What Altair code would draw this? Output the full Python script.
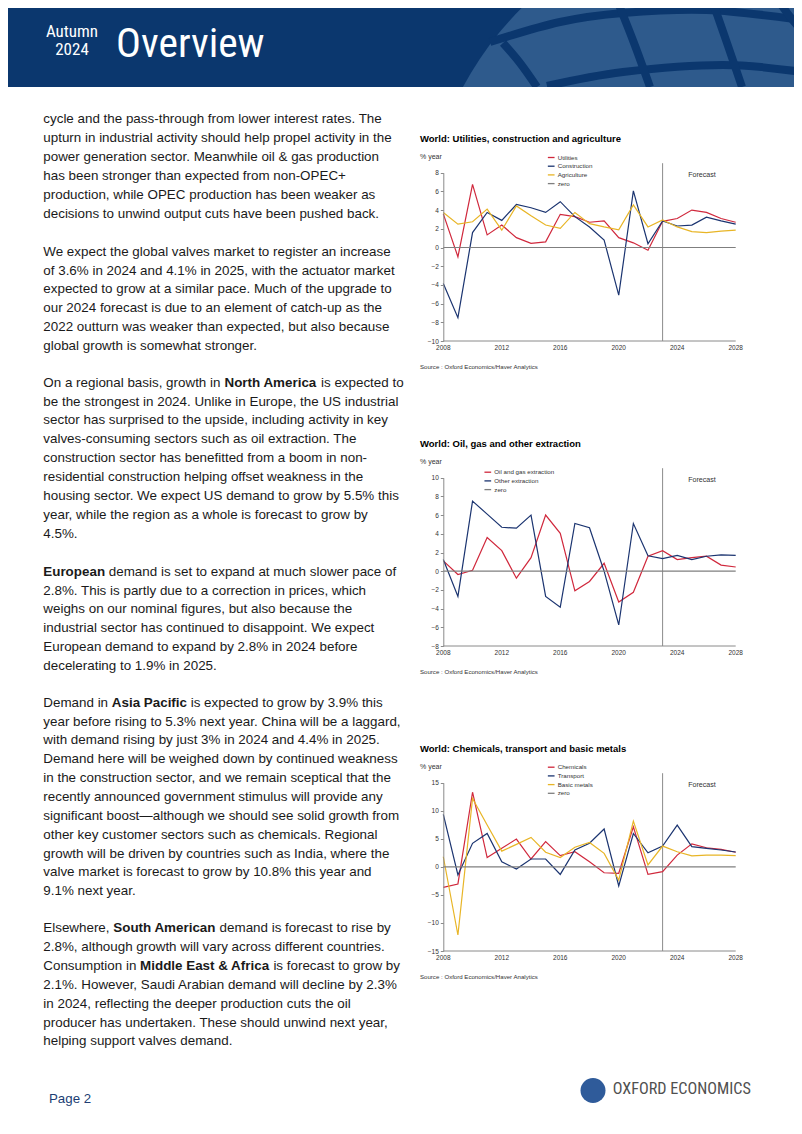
import altair as alt
import pandas as pd

# ---------------- data ----------------
YEARS = [2008, 2009, 2010, 2011, 2012, 2013, 2014, 2015, 2016, 2017, 2018,
         2019, 2020, 2021, 2022, 2023, 2024, 2025, 2026, 2027, 2028]
FORECAST_START = 2023
X_TICKS = [2008, 2012, 2016, 2020, 2024, 2028]

UTILITIES = [3.6, -1.0, 6.75, 1.35, 2.4, 1.05, 0.45, 0.6, 3.55, 3.3, 2.7,
             2.85, 1.05, 0.5, -0.3, 2.8, 3.1, 4.0, 3.75, 3.1, 2.7]
CONSTRUCTION = [-3.85, -7.5, 1.6, 3.75, 2.9, 4.6, 4.25, 3.75, 4.9, 3.3, 2.2,
                0.8, -5.1, 6.05, 0.4, 2.85, 2.3, 2.4, 3.25, 2.85, 2.5]
AGRICULTURE = [3.75, 2.5, 2.75, 4.1, 1.85, 4.45, 3.4, 2.4, 2.05, 3.75, 2.55,
               2.2, 1.9, 4.55, 2.2, 2.95, 2.2, 1.7, 1.6, 1.75, 1.85]
ZERO = [0, 0, 0, 0, 0, 0, 0, 0, 0, 0, 0, 0, 0, 0, 0, 0, 0, 0, 0, 0, 0]

OIL_GAS = [1.1, -0.35, 0.1, 3.6, 2.2, -0.75, 1.45, 6.0, 4.05, -2.1, -1.1,
           0.85, -3.3, -2.25, 1.6, 2.2, 1.25, 1.45, 1.6, 0.65, 0.45]
OTHER_EXTRACTION = [1.25, -2.7, 7.5, 6.1, 4.7, 4.6, 6.0, -2.7, -3.85, 5.1, 4.65,
                    0.0, -5.75, 5.1, 1.65, 1.35, 1.7, 1.25, 1.6, 1.75, 1.7]

CHEMICALS = [-3.65, -3.05, 13.3, 1.65, 3.3, 4.95, 1.4, 4.5, 2.0, 2.7, 0.9,
             -1.05, -1.15, 7.15, -1.35, -0.85, 2.1, 4.1, 3.4, 3.1, 2.6]
TRANSPORT = [9.35, -1.45, 4.2, 5.95, 0.9, -0.4, 1.4, 1.4, -1.35, 3.0, 4.2,
             6.75, -3.4, 5.95, 2.5, 3.7, 7.45, 3.6, 3.3, 3.0, 2.65]
BASIC_METALS = [1.8, -12.15, 12.2, 7.45, 2.8, 4.0, 5.25, 2.6, 1.65, 3.5, 4.35,
                2.4, -2.35, 8.15, 0.35, 3.7, 2.7, 1.95, 2.1, 2.1, 2.0]

CHART_TITLES = ["World: Utilities, construction and agriculture",
                "World: Oil, gas and other extraction",
                "World: Chemicals, transport and basic metals"]
SERIES_NAMES = [["Utilities", "Construction", "Agriculture", "zero"],
                ["Oil and gas extraction", "Other extraction", "zero"],
                ["Chemicals", "Transport", "Basic metals", "zero"]]
SERIES_VALUES = [[UTILITIES, CONSTRUCTION, AGRICULTURE, ZERO],
                 [OIL_GAS, OTHER_EXTRACTION, ZERO],
                 [CHEMICALS, TRANSPORT, BASIC_METALS, ZERO]]
Y_DOMAINS = [[-10, 8], [-8, 10], [-15, 15]]
Y_TICKS = [[-10, -8, -6, -4, -2, 0, 2, 4, 6, 8],
           [-8, -6, -4, -2, 0, 2, 4, 6, 8, 10],
           [-15, -10, -5, 0, 5, 10, 15]]
SOURCE = "Source : Oxford Economics/Haver Analytics"
UNIT = "% year"
FORECAST_LABEL = "Forecast"

PARAGRAPHS = [
    ["cycle and the pass-through from lower interest rates. The",
     "upturn in industrial activity should help propel activity in the",
     "power generation sector. Meanwhile oil & gas production",
     "has been stronger than expected from non-OPEC+",
     "production, while OPEC production has been weaker as",
     "decisions to unwind output cuts have been pushed back."],
    ["We expect the global valves market to register an increase",
     "of 3.6% in 2024 and 4.1% in 2025, with the actuator market",
     "expected to grow at a similar pace. Much of the upgrade to",
     "our 2024 forecast is due to an element of catch-up as the",
     "2022 outturn was weaker than expected, but also because",
     "global growth is somewhat stronger."],
    ["On a regional basis, growth in **North America** is expected to",
     "be the strongest in 2024. Unlike in Europe, the US industrial",
     "sector has surprised to the upside, including activity in key",
     "valves-consuming sectors such as oil extraction. The",
     "construction sector has benefitted from a boom in non-",
     "residential construction helping offset weakness in the",
     "housing sector. We expect US demand to grow by 5.5% this",
     "year, while the region as a whole is forecast to grow by",
     "4.5%."],
    ["**European** demand is set to expand at much slower pace of",
     "2.8%. This is partly due to a correction in prices, which",
     "weighs on our nominal figures, but also because the",
     "industrial sector has continued to disappoint. We expect",
     "European demand to expand by 2.8% in 2024 before",
     "decelerating to 1.9% in 2025."],
    ["Demand in **Asia Pacific** is expected to grow by 3.9% this",
     "year before rising to 5.3% next year. China will be a laggard,",
     "with demand rising by just 3% in 2024 and 4.4% in 2025.",
     "Demand here will be weighed down by continued weakness",
     "in the construction sector, and we remain sceptical that the",
     "recently announced government stimulus will provide any",
     "significant boost\u2014although we should see solid growth from",
     "other key customer sectors such as chemicals. Regional",
     "growth will be driven by countries such as India, where the",
     "valve market is forecast to grow by 10.8% this year and",
     "9.1% next year."],
    ["Elsewhere, **South American** demand is forecast to rise by",
     "2.8%, although growth will vary across different countries.",
     "Consumption in **Middle East & Africa** is forecast to grow by",
     "2.1%. However, Saudi Arabian demand will decline by 2.3%",
     "in 2024, reflecting the deeper production cuts the oil",
     "producer has undertaken. These should unwind next year,",
     "helping support valves demand."],
]

# ---------------- layout (pixels inside the chart; page margin is 8px) ----------------
W, H = 786, 1118
FONT = "Liberation Sans"
NARROW = "Liberation Sans Narrow, Arial Narrow, Roboto Condensed, Liberation Sans"
RED, NAVY, GOLD, GRAY = "#d0283c", "#1b3470", "#e8b526", "#7f7f7f"
SERIES_COLORS = [[RED, NAVY, GOLD, GRAY], [RED, NAVY, GRAY], [RED, NAVY, GOLD, GRAY]]
BANNER, GLOBE = "#0b376e", "#2e5a8c"
AXIS_GRAY = "#8a8a8a"

X0, X1 = 435.3, 727.7
PANEL_STEP = 305
PLOT_TOP0, PLOT_BOT0 = 164.7, 333.0
LEGEND_POS = [(538.7, 145.0), (475.3, 459.7), (538.7, 754.7)]

TEXT_X = 35.3
PARA_TOP = [111.3, 243.7, 374.7, 563.7, 694.7, 920.3]
LINE_H = 18.85
BOLD_X = {"North America": (216.5, 313.0), "European": (35.3, 100.8),
          "Asia Pacific": (103.8, 182.7), "South American": (105.3, 211.6),
          "Middle East & Africa": (132.1, 265.4)}

ONE = pd.DataFrame({"k": [0]})


def txt(s, x, y, size=13.4, weight="normal", color="#1a1a1a", align="left",
        baseline="middle", font=FONT):
    return alt.Chart(ONE).mark_text(
        text=s, fontSize=size, fontWeight=weight, color=color, align=align,
        baseline=baseline, font=font
    ).encode(x=alt.value(x), y=alt.value(y))


layers = []

# ---------------- banner ----------------
GLOBE_R = 334
layers.append(alt.Chart(ONE).mark_rect(color=BANNER).encode(
    x=alt.value(0), x2=alt.value(W), y=alt.value(0), y2=alt.value(79)))
layers.append(alt.Chart(ONE).mark_point(
    shape="circle", filled=True, size=(2 * GLOBE_R) ** 2, color=GLOBE, opacity=1,
    strokeWidth=0, clip=True).encode(x=alt.value(749.5), y=alt.value(236.5)))

globe_rows = []
globe_paths = {
    "p1": [(482, 34), (552, 14), (615, 5), (699, 2), (794, 12)],
    "p2": [(539, 78), (615, 64), (715, 57), (794, 64)],
    "m0": [(495, 35), (512, 55), (529, 79)],
    "m1": [(609, -8), (626, 35), (642, 79)],
    "m2": [(704, -8), (719, 35), (734, 79)],
    "m3": [(770, -8), (783, 10), (802, 32)],
}
for seg, pts in globe_paths.items():
    for i, (gx, gy) in enumerate(pts):
        globe_rows.append({"seg": seg, "i": i, "gx": gx, "gy": gy})
layers.append(alt.Chart(pd.DataFrame(globe_rows)).mark_line(
    color=BANNER, strokeWidth=8, clip=True, interpolate="cardinal", strokeCap="butt"
).encode(x=alt.X("gx:Q", scale=None, axis=None), y=alt.Y("gy:Q", scale=None, axis=None),
         detail="seg:N", order="i:Q"))
layers.append(alt.Chart(ONE).mark_rect(color="white").encode(
    x=alt.value(0), x2=alt.value(W), y=alt.value(79), y2=alt.value(H)))

layers.append(txt("Autumn", 64, 29, size=17, color="white", align="center",
                  baseline="alphabetic", font=NARROW))
layers.append(txt("2024", 64, 47, size=17, color="white", align="center",
                  baseline="alphabetic", font=NARROW))
layers.append(txt("Overview", 108, 49, size=41.5, color="white",
                  baseline="alphabetic", font=NARROW))

# ---------------- body text ----------------
body_rows = []
for p, lines in enumerate(PARAGRAPHS):
    for i, line in enumerate(lines):
        y = PARA_TOP[p] + i * LINE_H
        parts = line.split("**")
        if len(parts) == 1:
            body_rows.append({"t": line, "bx": TEXT_X, "by": y, "bold": 0})
        else:
            bx, ax = BOLD_X[parts[1]]
            if parts[0].strip():
                body_rows.append({"t": parts[0].strip(), "bx": TEXT_X, "by": y, "bold": 0})
            body_rows.append({"t": parts[1], "bx": bx, "by": y, "bold": 1})
            if parts[2].strip():
                body_rows.append({"t": parts[2].strip(), "bx": ax, "by": y, "bold": 0})
body = pd.DataFrame(body_rows)
for b, wt in [(0, "normal"), (1, "bold")]:
    layers.append(alt.Chart(body).transform_filter(alt.datum.bold == b).mark_text(
        fontSize=13.4, font=FONT, fontWeight=wt, color="#1a1a1a", align="left",
        baseline="middle"
    ).encode(x=alt.X("bx:Q", scale=None, axis=None), y=alt.Y("by:Q", scale=None, axis=None),
             text="t:N"))

# ---------------- charts ----------------
for k in range(3):
    top = PLOT_TOP0 + PANEL_STEP * k
    bot = PLOT_BOT0 + PANEL_STEP * k
    names, vals, cols = SERIES_NAMES[k], SERIES_VALUES[k], SERIES_COLORS[k]
    rows = [{"year": yr, "value": v, "series": n}
            for n, vv in zip(names, vals) for yr, v in zip(YEARS, vv)]
    df = pd.DataFrame(rows)
    xsc = alt.Scale(domain=[YEARS[0], YEARS[-1]], range=[X0, X1], nice=False, zero=False)
    ysc = alt.Scale(domain=Y_DOMAINS[k], range=[bot, top], nice=False, zero=False)
    yaxis = alt.Axis(orient="left", offset=-X0, values=Y_TICKS[k], title=None,
                     grid=False, tickSize=3, tickColor=AXIS_GRAY, tickWidth=1,
                     domainColor=AXIS_GRAY, domainWidth=1, labelFontSize=6.5,
                     labelFont=FONT, labelColor="#333333", labelPadding=2,
                     labelFlush=False, labelOverlap=False, zindex=2)
    lx, ly = LEGEND_POS[k]
    legend = alt.Legend(orient="none", legendX=lx, legendY=ly, title=None,
                        direction="vertical", symbolType="stroke", symbolSize=45,
                        symbolStrokeWidth=1.3, labelFontSize=6.2, labelFont=FONT,
                        labelColor="#333333", labelOffset=2, rowPadding=0.7, padding=0)
    lines = alt.Chart(df).mark_line(strokeWidth=1.2).encode(
        x=alt.X("year:Q", scale=xsc, axis=None),
        y=alt.Y("value:Q", scale=ysc, axis=yaxis),
        color=alt.Color("series:N", scale=alt.Scale(domain=names, range=cols),
                        legend=legend),
    )
    rule = alt.Chart(pd.DataFrame({"year": [FORECAST_START]})).mark_rule(
        color="#8c8c8c", strokeWidth=1
    ).encode(x=alt.X("year:Q", scale=xsc, axis=None), y=alt.value(top - 9.5),
             y2=alt.value(bot))
    # x axis: baseline through the x scale and year labels at the tick values
    xdomain = alt.Chart(pd.DataFrame({"a": [YEARS[0]], "b": [YEARS[-1]]})).mark_rule(
        color=AXIS_GRAY, strokeWidth=1
    ).encode(x=alt.X("a:Q", scale=xsc, axis=None), x2="b:Q", y=alt.value(bot))
    xlabels = alt.Chart(pd.DataFrame({"year": X_TICKS})).mark_text(
        fontSize=6.5, font=FONT, color="#333333", align="center", baseline="top"
    ).encode(x=alt.X("year:Q", scale=xsc, axis=None), y=alt.value(bot + 3.5),
             text=alt.Text("year:Q", format="d"))
    panel = alt.layer(rule, lines, xdomain, xlabels)
    layers.append(panel)
    layers.append(txt(CHART_TITLES[k], 412, 131 + PANEL_STEP * k, size=9.5,
                      weight="bold", color="#000000"))
    layers.append(txt(UNIT, 412, 149 + PANEL_STEP * k, size=7, color="#333333"))
    layers.append(txt(SOURCE, 412, 359.3 + PANEL_STEP * k, size=6.1, color="#333333"))
    layers.append(txt(FORECAST_LABEL, 694, 167 + PANEL_STEP * k, size=7.1,
                      color="#333333", align="center"))

# ---------------- footer ----------------
layers.append(txt("Page 2", 41, 1091, size=13.3, color="#203d73"))
layers.append(alt.Chart(ONE).mark_point(
    shape="circle", filled=True, size=625, color="#2f5b9a", opacity=1, strokeWidth=0
).encode(x=alt.value(585), y=alt.value(1082.5)))
layers.append(txt("OXFORD ECONOMICS", 604.7, 1080.5, size=16.2, color="#505050",
                  font=NARROW))

chart = alt.layer(*layers).resolve_scale(
    x="independent", y="independent", color="independent"
).resolve_axis(x="independent", y="independent").resolve_legend(
    color="independent"
).properties(
    width=W, height=H, padding=0, background="white",
    autosize=alt.AutoSizeParams(type="none")
).configure_view(stroke=None)

chart.save("out.html", embed_options={"renderer": "svg", "actions": False})
